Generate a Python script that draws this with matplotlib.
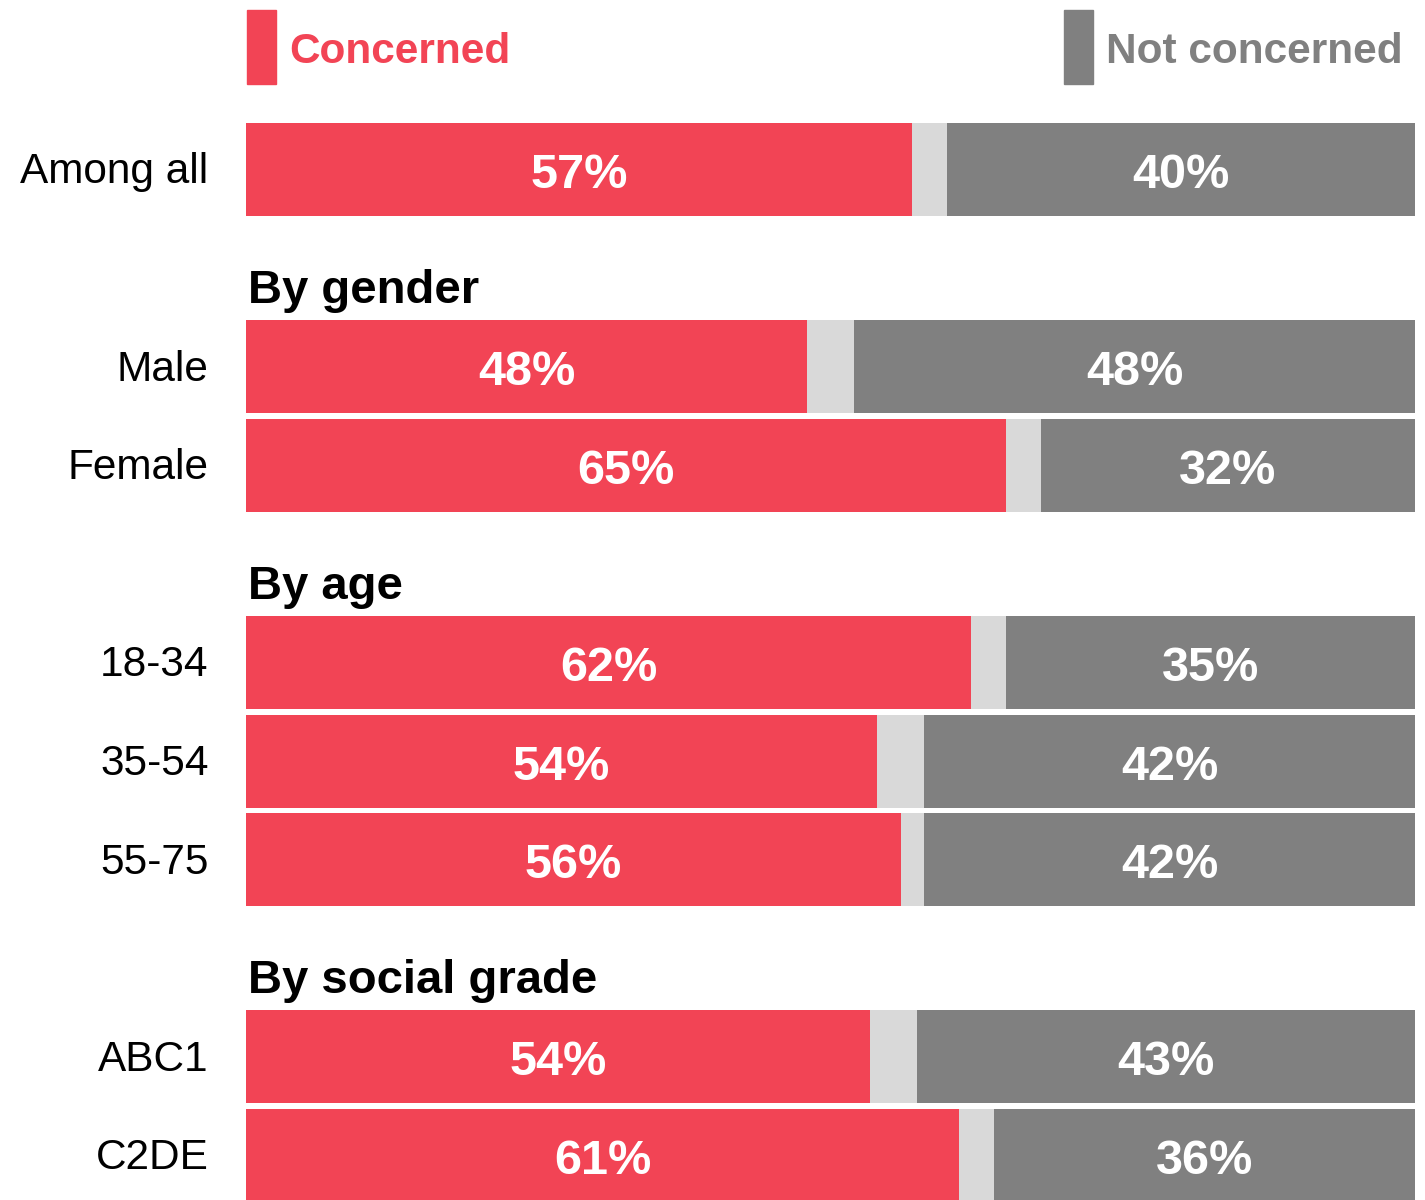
import numpy as np
import matplotlib
matplotlib.use("Agg")
import matplotlib.pyplot as plt
from matplotlib.patches import Rectangle

plt.rcParams['font.family'] = ['Liberation Sans', 'DejaVu Sans']

# data
categories = ["Among all", "Male", "Female", "18-34", "35-54", "55-75", "ABC1", "C2DE"]
concerned = np.array([57, 48, 65, 62, 54, 56, 53.4, 61])
not_concerned = np.array([40, 48, 32, 35, 42, 42, 42.6, 36])
concerned_labels = ["57%", "48%", "65%", "62%", "54%", "56%", "54%", "61%"]
not_concerned_labels = ["40%", "48%", "32%", "35%", "42%", "42%", "43%", "36%"]
rows = np.array([0, 2, 3, 5, 6, 7, 9, 10])
headers = ["By gender", "By age", "By social grade"]
header_rows = [2, 5, 9]

red = "#F24455"
grey = "#808080"
light = "#D9D9D9"

dont_know = 100 - concerned - not_concerned

fig = plt.figure(figsize=(14.25, 12), dpi=100)
ax = fig.add_axes([0, 0, 1, 1])
ax.set_xlim(-246 / 11.69, (1425 - 246) / 11.69)
ax.set_ylim((1200 - 169.5) / 98.6, -169.5 / 98.6)
ax.axis("off")

h = 0.943
ax.barh(rows, concerned, height=h, color=red)
ax.barh(rows, dont_know, left=concerned, height=h, color=light)
ax.barh(rows, not_concerned, left=concerned + dont_know, height=h, color=grey)

for r, c, n, cl, nl, cat in zip(rows, concerned, not_concerned,
                                concerned_labels, not_concerned_labels, categories):
    ax.text(c / 2, r + 0.188, cl, ha="center", va="baseline",
            color="white", fontsize=35, fontweight="bold")
    ax.text(100 - n / 2, r + 0.188, nl, ha="center", va="baseline",
            color="white", fontsize=35, fontweight="bold")
    ax.text(-3.2, r + 0.14, cat, ha="right", va="baseline",
            color="black", fontsize=30.5)

for lab, r in zip(headers, header_rows):
    ax.text(0.15, r - 0.646, lab, ha="left", va="baseline",
            color="black", fontsize=34, fontweight="bold")

# legend
ax.add_patch(Rectangle((0.086, -1.618), 2.48, 0.751, color=red, clip_on=False))
ax.text(3.68, -1.08, "Concerned", color=red, fontsize=30.5,
        fontweight="bold", va="baseline")
ax.add_patch(Rectangle((69.97, -1.618), 2.48, 0.751, color=grey, clip_on=False))
ax.text(73.57, -1.08, "Not concerned", color=grey, fontsize=30.5,
        fontweight="bold", va="baseline")

fig.savefig("out.png", dpi=100)
